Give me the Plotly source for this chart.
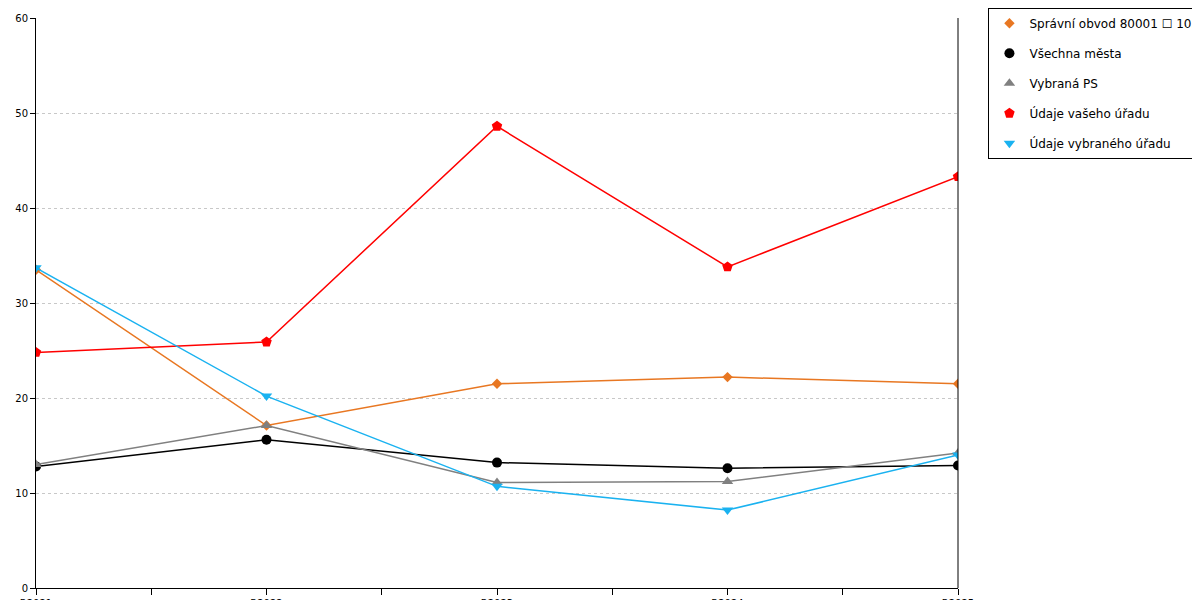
import plotly.graph_objects as go

years = ["R2021", "R2022", "R2023", "R2024", "R2025"]
spravni = [33.5, 17.1, 21.5, 22.2, 21.5]
vsechna = [12.8, 15.6, 13.2, 12.6, 12.9]
vybrana_ps = [13.0, 17.1, 11.1, 11.2, 14.2]
vas_urad = [24.8, 25.9, 48.6, 33.8, 43.3]
vybrany_urad = [33.7, 20.2, 10.7, 8.2, 14.0]

series = [
    ("Správní obvod 80001 \u2610 105000", spravni, "#e87722", "diamond", 8),
    ("Všechna města", vsechna, "#000000", "circle", 10),
    ("Vybraná PS", vybrana_ps, "#808080", "triangle-up", 10),
    ("Údaje vašeho úřadu", vas_urad, "#ff0000", "pentagon", 11),
    ("Údaje vybraného úřadu", vybrany_urad, "#1ab2f0", "triangle-down", 10),
]

xs = list(range(len(years)))
fig = go.Figure()
for i, (name, vals, color, sym, size) in enumerate(series):
    fig.add_trace(go.Scatter(
        x=xs, y=vals, name=name, mode="lines+markers", showlegend=False,
        line=dict(color=color, width=1.5),
        marker=dict(color=color, symbol=sym, size=size),
    ))
    # marker-only legend entry
    fig.add_trace(go.Scatter(
        x=[None], y=[None], name=name, mode="markers", legendgroup=f"g{i}",
        marker=dict(color=color, symbol=sym, size=size),
    ))

tickvals = [i * 0.5 for i in range(2 * len(years) - 1)]
ticktext = [years[int(v)] if v == int(v) else "" for v in tickvals]

fig.update_layout(
    width=1200, height=600,
    plot_bgcolor="white", paper_bgcolor="white",
    font=dict(family="DejaVu Sans", size=11, color="#000"),
    margin=dict(l=28, r=250, t=10, b=20, autoexpand=False),
    legend=dict(x=1.033, y=1.018, xanchor="left", yanchor="top",
                bordercolor="#000", borderwidth=1, tracegroupgap=11,
                font=dict(size=12)),
    shapes=[dict(type="line", xref="paper", yref="paper", x0=1, x1=1, y0=0, y1=1,
                 line=dict(color="#000", width=1))],
)
fig.update_xaxes(range=[0, 4], tickvals=tickvals, ticktext=ticktext, automargin=False,
                 ticks="outside", ticklen=6, tickcolor="#000", tickfont=dict(size=10),
                 showline=True, linecolor="#000", showgrid=False, zeroline=False)
fig.update_yaxes(range=[0, 60], dtick=10, ticks="outside", ticklen=5, tickcolor="#000",
                 automargin=False, tickfont=dict(size=10),
                 showline=True, linecolor="#000", gridcolor="#c8c8c8", griddash="dot",
                 zeroline=False)

fig.write_html("out.html")
